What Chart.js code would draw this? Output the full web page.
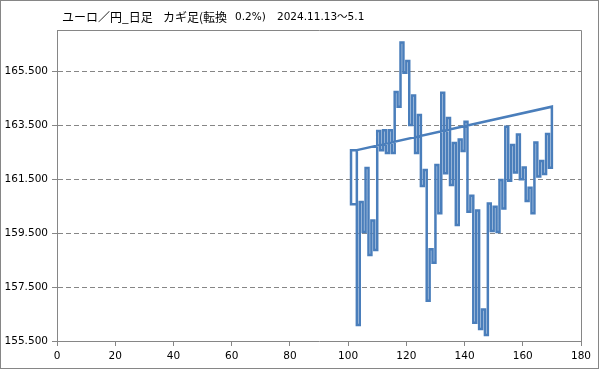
<!DOCTYPE html>
<html>
<head>
<meta charset="utf-8">
<script src="https://cdn.jsdelivr.net/npm/chart.js@4"></script>
<style>
  body { margin: 0; background: #fff; }
  canvas { display: block; }
</style>
</head>
<body>
<canvas id="kagiChart" width="599" height="369"></canvas>
<script>
// x position of every vertical kagi leg
const legX = [101, 103, 104, 105, 106, 107, 108, 109, 110, 111, 112, 113, 114, 115,
    116, 117, 118, 119, 120, 121, 122, 123, 124, 125, 126, 127, 128, 129, 130,
    131, 132, 133, 134, 135, 136, 137, 138, 139, 140, 141, 142, 143, 144, 145,
    146, 147, 148, 149, 150, 151, 152, 153, 154, 155, 156, 157, 158, 159, 160,
    161, 162, 163, 164, 165, 166, 167, 168, 169, 170];

// turning prices: leg i runs from turnPrice[i] to turnPrice[i + 1]
const turnPrice = [160.57, 162.57, 156.09, 160.65, 159.54, 161.91, 158.69, 159.96,
    158.87, 163.28, 162.57, 163.31, 162.46, 163.31, 162.46, 164.72, 164.18,
    166.56, 165.44, 165.87, 163.50, 164.59, 162.46, 163.87, 161.24, 161.83,
    156.99, 158.90, 158.40, 162.02, 160.23, 164.70, 161.71, 163.76, 161.28,
    162.83, 159.80, 162.96, 162.54, 163.62, 160.29, 160.88, 156.18, 160.33,
    155.94, 156.67, 155.72, 160.59, 159.57, 160.47, 159.54, 161.46, 160.41,
    163.44, 161.44, 162.76, 161.74, 163.15, 161.49, 161.93, 160.69, 161.18,
    160.23, 162.85, 161.59, 162.17, 161.69, 163.17, 161.92, 164.18];

const yTicks = [155.5, 157.5, 159.5, 161.5, 163.5, 165.5];
const xTicks = [0, 20, 40, 60, 80, 100, 120, 140, 160, 180];
const yMax = 167.02;

const titleParts = [
    { text: 'ユーロ／円_日足', x: 62, font: "12px 'Noto Sans CJK JP'" },
    { text: 'カギ足(転換', x: 163, font: "12px 'Noto Sans CJK JP'" },
    { text: '0.2%)', x: 235, font: "10.5px 'DejaVu Sans'" },
    { text: '2024.11.13～5.1', x: 277, font: "10.5px 'DejaVu Sans', 'Noto Sans CJK JP'" }
];

const axisGray = '#868686';

function buildKagiPoints() {
    // short lead-in along the bottom of the first leg
    const pts = [{ x: legX[1], y: turnPrice[0] }];
    legX.forEach((x, i) => {
        pts.push({ x: x, y: turnPrice[i] });
        pts.push({ x: x, y: turnPrice[i + 1] });
    });
    // line drawn back to the start of the chart
    pts.push({ x: legX[1], y: turnPrice[1] });
    return pts;
}

const framePlugin = {
    id: 'frame',
    beforeDraw(chart) {
        const ctx = chart.ctx;
        ctx.save();
        ctx.fillStyle = '#fff';
        ctx.fillRect(0, 0, chart.width, chart.height);
        ctx.restore();
    },
    afterDraw(chart) {
        const ctx = chart.ctx;
        const a = chart.chartArea;
        ctx.save();
        ctx.strokeStyle = axisGray;
        ctx.lineWidth = 1;
        ctx.strokeRect(0.5, 0.5, chart.width - 1, chart.height - 1);
        ctx.beginPath();
        ctx.moveTo(Math.round(a.left) + 0.5, Math.round(a.top) + 0.5);
        ctx.lineTo(Math.round(a.right) + 0.5, Math.round(a.top) + 0.5);
        ctx.lineTo(Math.round(a.right) + 0.5, Math.round(a.bottom) + 0.5);
        ctx.stroke();

        ctx.fillStyle = '#000';
        ctx.textBaseline = 'middle';
        titleParts.forEach(p => {
            ctx.font = p.font;
            ctx.fillText(p.text, p.x, 17);
        });
        ctx.restore();
    }
};

const tickFont = { family: 'DejaVu Sans', size: 10.5 };

new Chart(document.getElementById('kagiChart'), {
    type: 'scatter',
    data: {
        datasets: [{
            data: buildKagiPoints(),
            showLine: true,
            borderColor: '#4a7ebb',
            borderWidth: 2.5,
            pointRadius: 0,
            tension: 0
        }]
    },
    options: {
        responsive: false,
        animation: false,
        layout: { padding: { top: 30, right: 18, left: 0, bottom: 0 } },
        plugins: {
            legend: { display: false },
            tooltip: { enabled: false }
        },
        scales: {
            x: {
                type: 'linear',
                min: 0,
                max: 180,
                afterBuildTicks: s => { s.ticks = xTicks.map(v => ({ value: v })); },
                afterFit: s => { s.height = 28; },
                grid: {
                    drawOnChartArea: false,
                    tickLength: 5,
                    color: axisGray
                },
                border: { color: axisGray },
                ticks: {
                    color: '#000',
                    font: tickFont,
                    padding: 4,
                    maxRotation: 0
                }
            },
            y: {
                type: 'linear',
                min: yTicks[0],
                max: yMax,
                afterBuildTicks: s => { s.ticks = yTicks.map(v => ({ value: v })); },
                afterFit: s => { s.width = 57; },
                grid: {
                    color: axisGray,
                    tickLength: 5,
                    tickColor: axisGray,
                    tickBorderDash: []
                },
                border: { color: axisGray, dash: [5, 3] },
                ticks: {
                    color: '#000',
                    font: tickFont,
                    padding: 4,
                    callback: v => v.toFixed(3)
                }
            }
        }
    },
    plugins: [framePlugin]
});
</script>
</body>
</html>
